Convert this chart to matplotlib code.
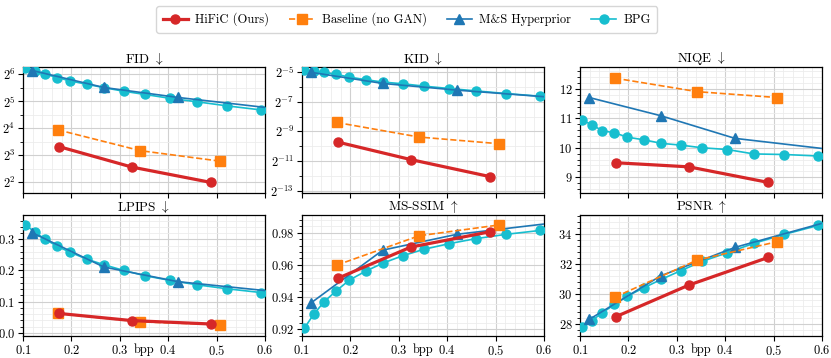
import numpy as np
import matplotlib
matplotlib.use("Agg")
from matplotlib import pyplot
from matplotlib.ticker import FixedLocator, LogFormatterSciNotation, AutoMinorLocator, NullFormatter

pyplot.rcParams['font.family'] = 'cmr10'
pyplot.rcParams['mathtext.fontset'] = 'cm'
pyplot.rcParams['axes.formatter.use_mathtext'] = True
pyplot.rcParams['font.size'] = 9

# bpp values
bpg_bpp = [0.105, 0.124, 0.146, 0.171, 0.198, 0.232, 0.268, 0.308, 0.352, 0.404, 0.459, 0.522, 0.592]
hyper_bpp = [0.119, 0.267, 0.420, 0.640]
hific_bpp = [0.174, 0.325, 0.489]
base_bpp = [0.172, 0.342, 0.507]

# FID
fid_bpg = [75.1, 69.5, 64.0, 58.9, 53.8, 49.5, 45.3, 41.4, 38.1, 34.5, 31.6, 28.4, 25.6]
fid_hyper = [70.5, 45.6, 35.3, 25.8]
fid_hific = [9.99, 5.9, 3.97]
fid_base = [15.35, 9.0, 6.87]

kid_bpg = 2.0 ** np.array([-4.84, -4.95, -5.02, -5.16, -5.34, -5.52, -5.68, -5.79, -5.95, -6.11, -6.27, -6.45, -6.63])
kid_hyper = 2.0 ** np.array([-5.02, -5.77, -6.22, -6.76])
kid_hific = 2.0 ** np.array([-9.72, -10.9, -12.05])
kid_base = 2.0 ** np.array([-8.40, -9.38, -9.83])

# NIQE
niqe_bpg = [10.93, 10.79, 10.58, 10.51, 10.36, 10.27, 10.15, 10.09, 10.0, 9.94, 9.79, 9.77, 9.72]
niqe_hyper = [11.71, 11.09, 10.32, 9.90]
niqe_hific = [9.49, 9.35, 8.82]
niqe_base = [12.37, 11.91, 11.71]

# LPIPS
lpips_bpg = [0.347, 0.323, 0.300, 0.277, 0.258, 0.236, 0.218, 0.200, 0.183, 0.168, 0.154, 0.141, 0.129]
lpips_hyper = [0.321, 0.211, 0.164, 0.129]
lpips_hific = [0.062, 0.039, 0.028]
lpips_base = [0.062, 0.035, 0.026]

# MS-SSIM
msssim_bpg = [0.9208, 0.9293, 0.9372, 0.9440, 0.9506, 0.9562, 0.9612, 0.9657, 0.9697, 0.9732, 0.9763, 0.9790, 0.9814]
msssim_hyper = [0.9365, 0.9692, 0.9790, 0.9868]
msssim_hific = [0.9517, 0.9711, 0.9806]
msssim_base = [0.9599, 0.9781, 0.9848]

# PSNR
psnr_bpg = [27.77, 28.22, 28.75, 29.31, 29.87, 30.43, 30.99, 31.57, 32.19, 32.77, 33.40, 34.0, 34.6]
psnr_hyper = [28.31, 31.23, 33.13, 35.1]
psnr_hific = [28.49, 30.61, 32.46]
psnr_base = [29.80, 32.28, 33.51]

panels = [
    (r'FID $\downarrow$', fid_hific, fid_base, fid_hyper, fid_bpg),
    (r'KID $\downarrow$', kid_hific, kid_base, kid_hyper, kid_bpg),
    (r'NIQE $\downarrow$', niqe_hific, niqe_base, niqe_hyper, niqe_bpg),
    (r'LPIPS $\downarrow$', lpips_hific, lpips_base, lpips_hyper, lpips_bpg),
    (r'MS-SSIM $\uparrow$', msssim_hific, msssim_base, msssim_hyper, msssim_bpg),
    (r'PSNR $\uparrow$', psnr_hific, psnr_base, psnr_hyper, psnr_bpg),
]

ylims = [(2 ** 1.6, 2 ** 6.27), (2 ** -13.15, 2 ** -4.66), (8.46, 12.75),
         (-0.0104, 0.378), (0.9159, 0.991), (27.2, 35.3)]

figure = pyplot.figure(figsize=(8.31, 3.58), dpi=100)

lefts = [0.0277, 0.3634, 0.698]
width = 0.2912
rows = [(0.4609, 0.352), (0.0615, 0.338)]

handles = None
for i, (title, hific, base, hyper, bpg) in enumerate(panels):
    bottom, height = rows[i // 3]
    ax = figure.add_axes([lefts[i % 3], bottom, width, height])

    h_bpg, = ax.plot(bpg_bpp, bpg, '-o', color='#17becf', lw=1.2, ms=6.5, label='BPG', zorder=3)
    h_hyp, = ax.plot(hyper_bpp, hyper, '-^', color='#1f77b4', lw=1.2, ms=7, label='M&S Hyperprior', zorder=4)
    h_base, = ax.plot(base_bpp, base, '--s', color='#ff7f0e', lw=1.2, ms=6.5, label='Baseline (no GAN)', zorder=5)
    h_hific, = ax.plot(hific_bpp, hific, '-o', color='#d62728', lw=2.3, ms=6.5, label='HiFiC (Ours)', zorder=6)
    handles = [h_hific, h_base, h_hyp, h_bpg]

    ax.set_xlim(0.1, 0.6)
    ax.set_ylim(*ylims[i])
    ax.set_title(title, fontsize=9.5, pad=3)
    ax.xaxis.set_minor_locator(AutoMinorLocator(5))

    if i == 0:
        ax.set_yscale('log', base=2)
        ax.yaxis.set_major_locator(FixedLocator([2 ** k for k in range(2, 7)]))
        ax.yaxis.set_major_formatter(LogFormatterSciNotation(base=2))
        ax.yaxis.set_minor_locator(FixedLocator([2 ** (k + 0.5) for k in range(1, 7)]))
        ax.yaxis.set_minor_formatter(NullFormatter())
    elif i == 1:
        ax.set_yscale('log', base=2)
        ax.yaxis.set_major_locator(FixedLocator([2 ** k for k in range(-13, -4, 2)]))
        ax.yaxis.set_major_formatter(LogFormatterSciNotation(base=2))
        ax.yaxis.set_minor_locator(FixedLocator([2 ** k for k in range(-14, -3)]))
        ax.yaxis.set_minor_formatter(NullFormatter())
    else:
        ax.yaxis.set_minor_locator(AutoMinorLocator(5))

    if i == 4:
        ax.set_yticks([0.92, 0.94, 0.96, 0.98])
    if i == 5:
        ax.set_yticks([28, 30, 32, 34])

    ax.grid(which='major', color='#d0d0d0', lw=0.8)
    ax.grid(which='minor', color='#ececec', lw=0.6)
    ax.set_axisbelow(True)
    ax.tick_params(which='major', length=3.5, width=0.8, pad=2)
    ax.tick_params(which='minor', length=2, width=0.6)
    ax.tick_params(axis='x', which='minor', length=0)

    if i < 3:
        ax.set_xticklabels([])
    else:
        ax.set_xticks([0.1, 0.2, 0.3, 0.4, 0.5, 0.6])
        ax.set_xlabel('bpp', labelpad=-10.5)

    for spine in ax.spines.values():
        spine.set_color('black')
        spine.set_linewidth(0.9)

figure.legend(handles, [h.get_label() for h in handles], loc='upper center',
              bbox_to_anchor=(0.4895, 1.0), ncol=4, fontsize=9, frameon=True,
              handlelength=2.0, columnspacing=1.6, handletextpad=0.6, borderpad=0.5)

figure.savefig('out.png', dpi=100)
